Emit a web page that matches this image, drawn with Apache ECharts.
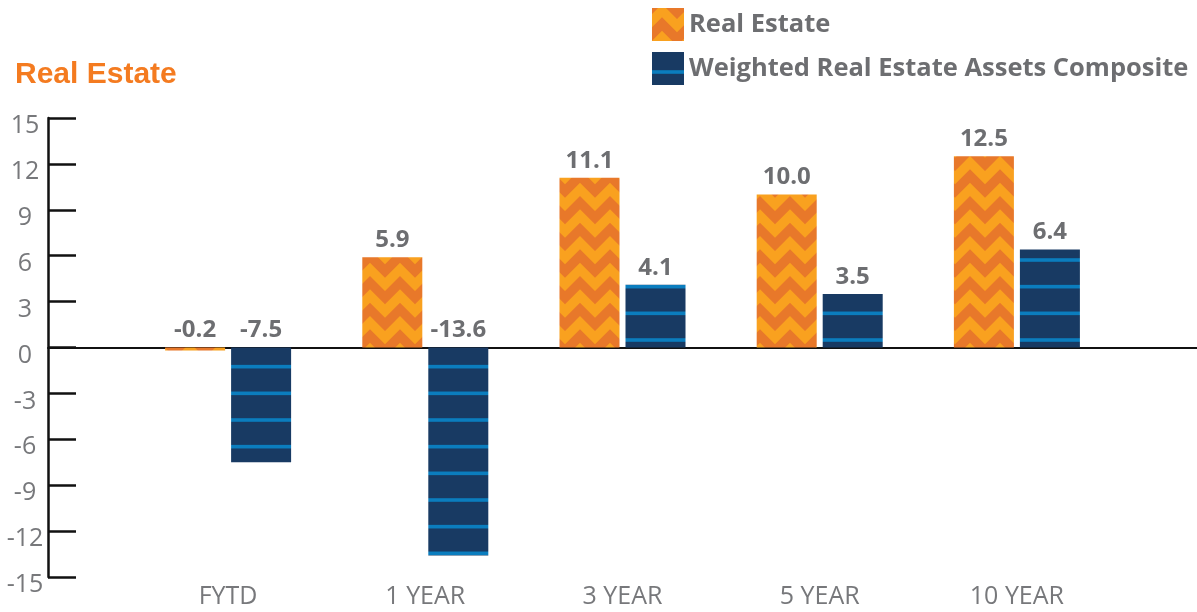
<!DOCTYPE html>
<html>
<head>
<meta charset="utf-8">
<script src="https://cdn.jsdelivr.net/npm/echarts@6/dist/echarts.min.js"></script>
<style>
html,body{margin:0;padding:0;background:#fff;}
#chart{width:1197px;height:612px;}
</style>
</head>
<body>
<div id="chart"></div>
<script>
const categories = ['FYTD', '1 YEAR', '3 YEAR', '5 YEAR', '10 YEAR'];
const realEstate = [-0.2, 5.9, 11.1, 10.0, 12.5];
const composite = [-7.5, -13.6, 4.1, 3.5, 6.4];
const seriesNames = ['Real Estate', 'Weighted Real Estate Assets Composite'];
const yTicks = { min: -15, max: 15, step: 3 };

function zigzagPattern() {
  const c = document.createElement('canvas');
  c.width = 30; c.height = 80;
  const g = c.getContext('2d');
  g.fillStyle = '#E8782A';
  g.fillRect(0, 0, 30, 80);
  g.fillStyle = '#F9A11F';
  const P = 80 / 3, T = P / 2;
  const xs = [-20, -5, 10, 25, 40];
  for (let k = -2; k <= 3; k++) {
    const a = 22.667 + P * k;
    g.beginPath();
    xs.forEach((x, i) => {
      const y = a + (i % 2 === 1 ? 15 : 0);
      if (i === 0) g.moveTo(x, y); else g.lineTo(x, y);
    });
    for (let i = xs.length - 1; i >= 0; i--) {
      g.lineTo(xs[i], a + (i % 2 === 1 ? 15 : 0) + T);
    }
    g.closePath();
    g.fill();
  }
  return c;
}
function stripePattern() {
  const c = document.createElement('canvas');
  c.width = 8; c.height = 80;
  const g = c.getContext('2d');
  g.fillStyle = '#183A63';
  g.fillRect(0, 0, 8, 80);
  g.fillStyle = '#0B7DBE';
  [20, 46.667, 73.333].forEach(y => g.fillRect(0, y - 1.8, 8, 3.6));
  return c;
}

const chart = echarts.init(document.getElementById('chart'));
const labelStyle = {
  show: true, position: 'top', distance: 5,
  formatter: p => p.value.toFixed(1),
  color: '#6D6E71', fontSize: 24, fontWeight: 'bold', fontFamily: 'Open Sans'
};
chart.setOption({
  animation: false,
  backgroundColor: '#fff',
  title: {
    text: 'Real Estate', left: 10, top: 55,
    textStyle: { color: '#F47B20', fontSize: 30, fontWeight: 'bold', fontFamily: 'Liberation Sans' }
  },
  legend: {
    orient: 'vertical', left: 647, top: 3,
    icon: 'rect',
    itemWidth: 32, itemHeight: 33, itemGap: 11,
    textStyle: { color: '#6D6E71', fontSize: 25.5, fontWeight: 'bold', fontFamily: 'Open Sans' },
    data: seriesNames
  },
  grid: [
    { left: 48, right: 0, top: 118, bottom: 35 },
    { left: 129.5, right: 81.5, top: 118, bottom: 35 }
  ],
  xAxis: [
    { type: 'value', gridIndex: 0, min: 0, max: 1,
      axisLine: { show: true, onZero: true, lineStyle: { color: '#111', width: 2 } },
      axisTick: { show: false }, axisLabel: { show: false }, splitLine: { show: false } },
    { type: 'category', gridIndex: 1, data: categories,
      axisLine: { show: false, onZero: false }, axisTick: { show: false },
      axisLabel: { color: '#77787B', fontSize: 25, fontFamily: 'Open Sans', margin: 7 } }
  ],
  yAxis: [
    { type: 'value', gridIndex: 0, min: yTicks.min, max: yTicks.max, interval: yTicks.step,
      axisLine: { show: true, lineStyle: { color: '#111', width: 2.5 } },
      axisTick: { show: true, inside: true, length: 28, lineStyle: { color: '#111', width: 2.5 } },
      splitLine: { show: false },
      axisLabel: { color: '#77787B', fontSize: 25, fontFamily: 'Open Sans', margin: 23,
        align: 'center', verticalAlign: 'top', lineHeight: 16 } },
    { type: 'value', gridIndex: 1, min: yTicks.min, max: yTicks.max, interval: yTicks.step, show: false }
  ],
  series: [
    { name: seriesNames[0], type: 'bar', xAxisIndex: 1, yAxisIndex: 1, data: realEstate,
      barWidth: 60, barGap: '10%',
      itemStyle: { color: { image: zigzagPattern(), repeat: 'repeat' } },
      label: labelStyle },
    { name: seriesNames[1], type: 'bar', xAxisIndex: 1, yAxisIndex: 1, data: composite,
      barWidth: 60, barGap: '10%',
      itemStyle: { color: { image: stripePattern(), repeat: 'repeat' } },
      label: labelStyle }
  ]
});
</script>
</body>
</html>
